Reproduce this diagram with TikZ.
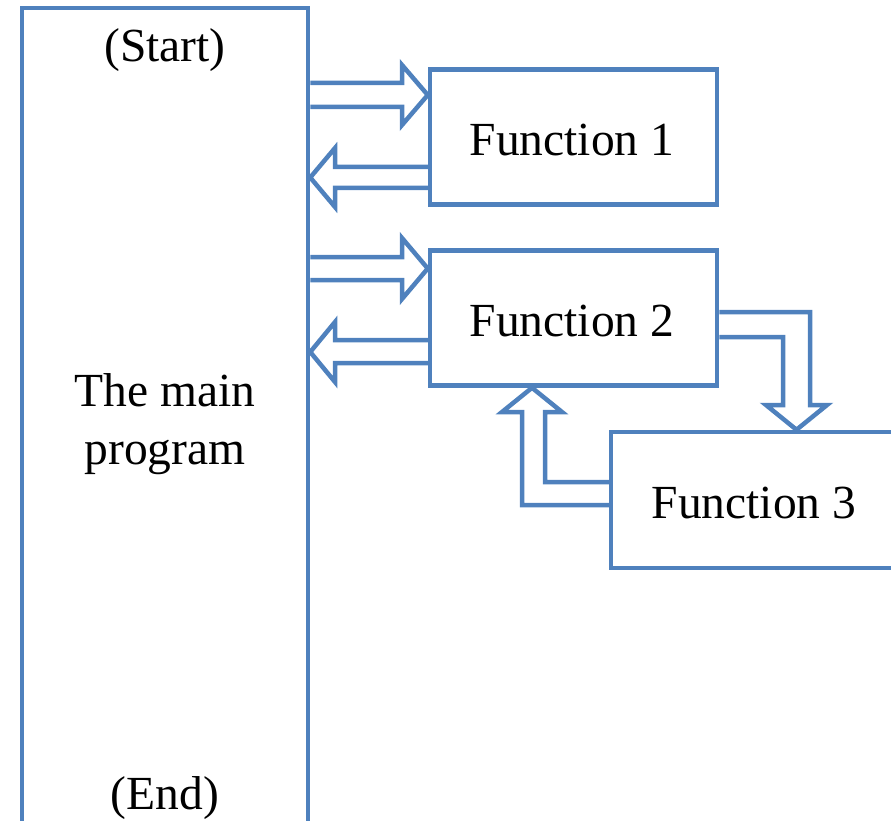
\documentclass[tikz,border=0pt]{standalone}
\usepackage{fontspec}
\setmainfont{Liberation Serif}
\definecolor{boxblue}{HTML}{4F81BD}
\begin{document}
\begin{tikzpicture}[x=1pt,y=-1pt,
  box/.style={draw=boxblue,line width=4.5pt,rectangle,inner sep=0pt},
  blk/.style={draw=boxblue,line width=4.5pt,line join=miter},
  lbl/.style={font=\fontsize{47.5}{58}\selectfont,inner sep=0pt,align=center}]
\clip (0,0) rectangle (891,821);
% boxes
\node[box,minimum width=286pt,minimum height=837pt] (main) at (165,426.5) {};
\node[box,minimum width=287pt,minimum height=135pt] (f1) at (573.5,137) {};
\node[box,minimum width=287pt,minimum height=135pt] (f2) at (573.5,318) {};
\node[box,minimum width=289pt,minimum height=136pt] (f3) at (755.5,500) {};
% labels
\node[lbl] (t1) at (572,140) {Function 1};
\node[lbl] (t2) at (572,321) {Function 2};
\node[lbl] (t3) at (754,503) {Function 3};
\node[lbl] (start) at (165,50) {(Start)};
\node[lbl] (body) at (165,424) {The main\\program};
\node[lbl] (end) at (165,798) {(End)};
% main -> f1
\draw[blk] (main.east |- 0,83) -- (402,83) -- (402,65) -- (f1.west |- 0,95) -- (402,125) -- (402,107) -- (main.east |- 0,107);
% f1 -> main
\draw[blk] (f1.west |- 0,167) -- (335,167) -- (335,148) -- (main.east |- 0,177.5) -- (335,207) -- (335,188) -- (f1.west |- 0,188);
% main -> f2
\draw[blk] (main.east |- 0,257) -- (402,257) -- (402,238) -- (f2.west |- 0,268.5) -- (402,299) -- (402,280) -- (main.east |- 0,280);
% f2 -> main
\draw[blk] (f2.west |- 0,340) -- (335,340) -- (335,322) -- (main.east |- 0,352) -- (335,382) -- (335,363) -- (f2.west |- 0,363);
% f2 -> f3
\draw[blk] (f2.east |- 0,312) -- (810,312) -- (810,405) -- (827,405) -- (796.5,0 |- f3.north) -- (766,405) -- (783,405) -- (783,337) -- (f2.east |- 0,337);
% f3 -> f2
\draw[blk] (f3.west |- 0,505) -- (522,505) -- (522,412) -- (502,412) -- (532,0 |- f2.south) -- (562,412) -- (545,412) -- (545,482) -- (f3.west |- 0,482);
\end{tikzpicture}
\end{document}
